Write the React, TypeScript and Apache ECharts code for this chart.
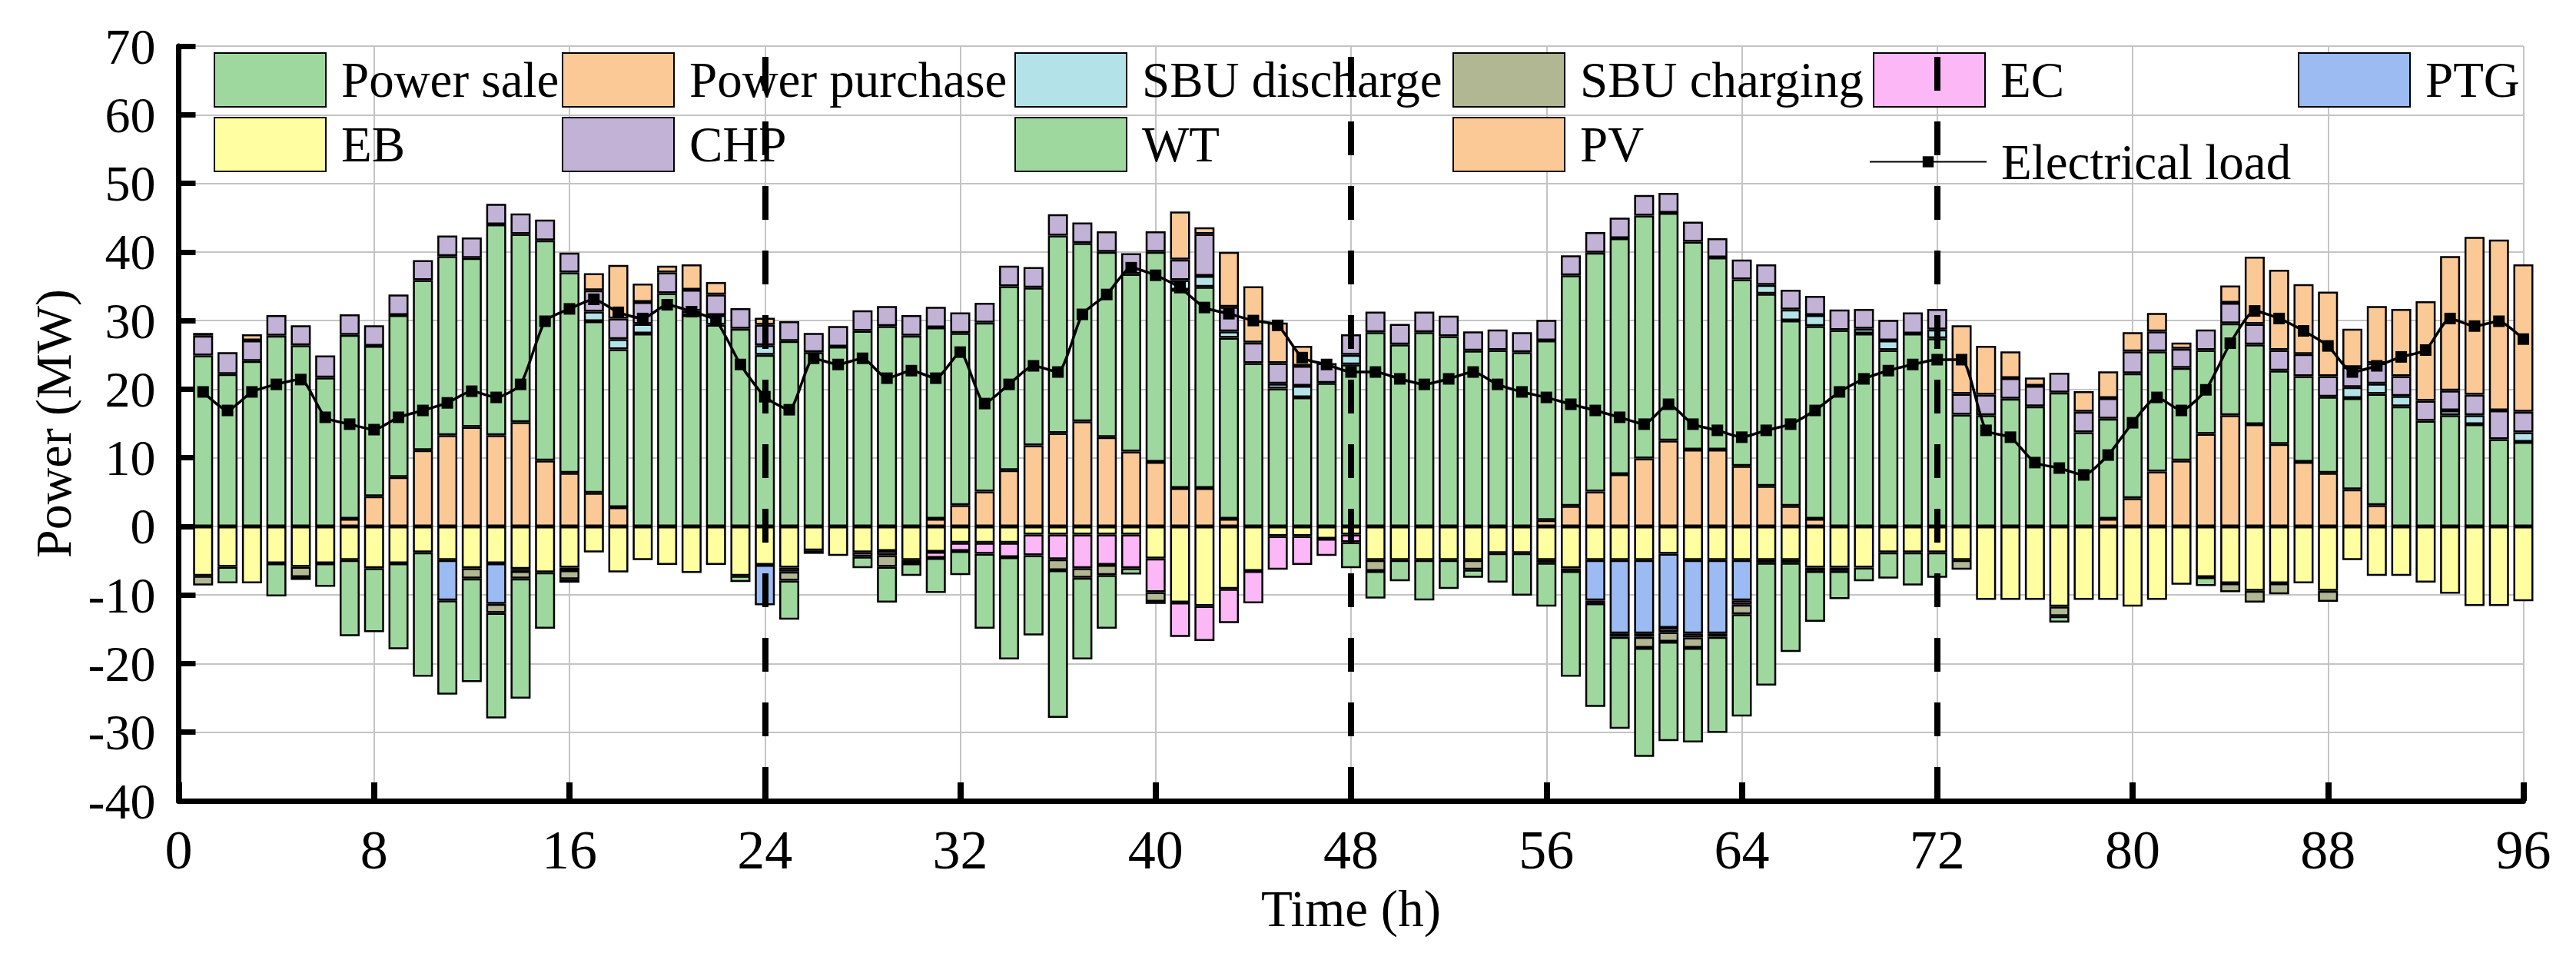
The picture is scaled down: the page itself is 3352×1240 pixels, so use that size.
import { useEffect, useRef } from "react";
import * as echarts from "echarts";

// category slots 0..96, bars sit on 1..96
const hourLabels = Array.from({ length: 97 }, (_, i) => String(i));

// positive side (bottom to top)
const pv = [
  0, 0, 0, 0, 0, 0, 1.1, 4.4, 7.2, 11.1, 13.3, 14.5,
  13.3, 15.2, 9.6, 7.8, 4.9, 2.8, 0, 0, 0, 0, 0, 0,
  0, 0, 0, 0, 0, 0, 1.1, 3.1, 5.1, 8.2, 11.8, 13.6,
  15.3, 13.0, 10.9, 9.4, 5.6, 5.6, 1.1, 0, 0, 0, 0, 0,
  0, 0, 0, 0, 0, 0, 0, 0.9, 3.0, 5.1, 7.6, 9.9,
  12.5, 11.2, 11.2, 8.8, 5.9, 3.0, 1.1, 0, 0, 0, 0, 0,
  0, 0, 0, 0, 0, 0, 1.1, 4.1, 8.0, 9.6, 13.5, 16.2,
  14.9, 12.0, 9.4, 7.8, 5.4, 3.1, 0, 0, 0, 0, 0, 0,
];
const wt = [
  24.9, 22.2, 24.1, 27.8, 26.4, 21.7, 26.8, 21.9, 23.6, 24.8, 26.1, 24.6,
  30.7, 27.4, 32.1, 29.2, 25.0, 23.0, 28.1, 34.0, 30.8, 29.4, 28.8, 25.0,
  27.0, 25.4, 26.2, 28.5, 29.2, 27.8, 27.9, 25.1, 24.6, 26.8, 23.0, 28.8,
  26.0, 27.0, 25.9, 30.6, 28.9, 29.3, 26.4, 23.8, 20.1, 18.8, 20.9, 23.6,
  28.3, 26.5, 28.3, 27.7, 25.6, 25.7, 25.4, 26.2, 33.6, 34.8, 34.4, 35.4,
  33.2, 30.3, 28.0, 27.2, 28.0, 27.0, 28.1, 28.6, 28.1, 25.7, 28.1, 27.4,
  16.3, 16.2, 18.6, 17.5, 19.5, 13.7, 14.6, 18.2, 17.5, 13.5, 12.2, 13.4,
  11.6, 10.7, 12.5, 11.1, 13.3, 16.2, 17.5, 15.4, 16.2, 14.9, 12.7, 12.3,
];
const sbuDischarge = [
  0, 0, 0, 0, 0, 0, 0, 0, 0, 0, 0, 0,
  0, 0, 0, 0, 1.4, 1.5, 1.4, 0, 0.6, 1.4, 0, 1.4,
  0, 0, 0, 0, 0, 0, 0, 0, 0, 0, 0, 0,
  0, 0, 0, 0, 1.4, 1.6, 0.9, 0, 0.7, 1.7, 0, 1.4,
  0, 0, 0, 0, 0, 0, 0, 0, 0, 0, 0, 0,
  0, 0, 0, 0, 1.3, 1.6, 1.6, 0, 0.7, 1.4, 0, 1.3,
  0, 0, 0, 0, 0, 0, 0, 0, 0, 0, 0, 0,
  0, 0, 0, 0, 1.6, 1.5, 1.5, 0, 0.7, 1.3, 0, 1.4,
];
const chp = [
  2.9, 3.2, 3.0, 3.0, 2.9, 3.2, 3.0, 3.0, 3.0, 2.9, 3.0, 3.0,
  3.0, 3.0, 3.0, 2.9, 3.1, 3.0, 3.2, 3.0, 3.1, 3.0, 3.0, 3.0,
  2.9, 2.8, 3.0, 3.0, 2.9, 3.0, 3.0, 3.0, 2.9, 3.0, 3.0, 3.1,
  3.0, 3.0, 3.0, 3.0, 3.0, 6.1, 3.6, 3.0, 3.0, 2.9, 2.9, 3.0,
  3.0, 3.0, 3.0, 3.0, 2.8, 3.0, 2.9, 3.0, 2.9, 3.0, 3.0, 3.0,
  2.9, 2.9, 2.8, 2.9, 3.0, 2.9, 2.8, 3.0, 2.9, 3.0, 3.1, 3.0,
  3.0, 3.0, 3.0, 3.0, 2.9, 3.0, 3.0, 3.2, 2.9, 2.8, 3.0, 3.0,
  3.0, 3.0, 3.2, 3.0, 2.9, 3.0, 2.9, 2.9, 2.9, 3.0, 4.2, 3.0,
];
const purchase = [
  0.4, 0, 0.9, 0, 0, 0, 0, 0, 0, 0, 0, 0,
  0, 0, 0, 0, 2.5, 7.8, 2.7, 1.0, 3.7, 1.8, 0, 1.0,
  0, 0, 0, 0, 0, 0, 0, 0, 0, 0, 0, 0,
  0, 0, 0, 0, 7.0, 1.0, 8.0, 8.2, 5.9, 2.9, 0, 0,
  0, 0, 0, 0, 0, 0, 0, 0, 0, 0, 0, 0,
  0, 0, 0, 0, 0, 0, 0, 0, 0, 0, 0, 0,
  10.0, 7.1, 3.9, 1.2, 0, 3.0, 3.9, 2.8, 2.7, 0.9, 0, 2.5,
  9.8, 11.7, 10.2, 12.3, 5.6, 8.3, 9.8, 14.5, 19.6, 23.0, 24.9, 21.5,
];

// negative side (from zero downwards)
const eb = [
  -7.2, -5.9, -8.3, -5.4, -5.9, -5.4, -4.9, -6.1, -5.4, -3.8, -4.9, -6.1,
  -5.4, -6.2, -6.7, -6.0, -3.8, -6.7, -4.9, -5.6, -6.8, -5.6, -7.2, -5.6,
  -6.0, -3.5, -4.3, -3.8, -3.6, -4.9, -3.7, -2.4, -2.4, -2.4, -1.2, -1.2,
  -1.2, -1.2, -1.2, -4.7, -11.1, -11.6, -9.1, -6.5, -1.4, -1.4, -1.8, -1.2,
  -4.9, -4.9, -4.9, -4.9, -4.9, -3.9, -3.9, -4.9, -6.1, -4.9, -4.9, -4.9,
  -4.0, -4.9, -4.9, -4.9, -4.9, -4.9, -6.0, -6.0, -6.0, -3.8, -3.8, -3.8,
  -4.9, -10.7, -10.7, -10.7, -11.7, -10.7, -10.7, -11.7, -10.7, -8.5, -7.4, -8.3,
  -9.4, -8.3, -8.3, -9.4, -4.9, -7.2, -7.2, -8.2, -9.8, -11.6, -11.6, -10.9,
];
const ptg = [
  0, 0, 0, 0, 0, 0, 0, 0, 0, 0, -5.9, 0,
  -5.9, 0, 0, 0, 0, 0, 0, 0, 0, 0, 0, -5.9,
  0, 0, 0, 0, 0, 0, 0, 0, 0, 0, 0, 0,
  0, 0, 0, 0, 0, 0, 0, 0, 0, 0, 0, 0,
  0, 0, 0, 0, 0, 0, 0, 0, 0, -5.9, -10.7, -10.7,
  -10.8, -10.7, -10.7, -5.9, 0, 0, 0, 0, 0, 0, 0, 0,
  0, 0, 0, 0, 0, 0, 0, 0, 0, 0, 0, 0,
  0, 0, 0, 0, 0, 0, 0, 0, 0, 0, 0, 0,
];
const ec = [
  0, 0, 0, 0, 0, 0, 0, 0, 0, 0, 0, 0,
  0, -0.3, 0, -0.4, 0, 0, 0, 0, 0, 0, 0, 0,
  -0.6, -0.5, 0, -0.6, -0.6, -0.5, -0.9, -1.2, -1.6, -2.1, -3.0, -3.6,
  -4.9, -4.4, -4.9, -4.9, -5.0, -5.1, -5.0, -4.7, -4.9, -4.2, -2.5, -1.1,
  0, 0, 0, 0, 0, 0, 0, -0.4, -0.4, -0.4, -0.5, -0.5,
  -0.6, -0.6, -0.5, -0.6, -0.4, -0.4, -0.5, -0.5, 0, 0, 0, 0,
  0, 0, 0, 0, 0, 0, 0, 0, 0, 0, 0, 0,
  0, 0, 0, 0, 0, 0, 0, 0, 0, 0, 0, 0,
];
const sbuCharging = [
  -1.4, 0, 0, 0, -1.5, 0, 0, 0, 0, 0, 0, -1.5,
  -1.3, -1.1, 0, -1.3, 0, 0, 0, 0, 0, 0, 0, 0,
  -1.3, 0, 0, 0, -1.7, 0, 0, 0, 0, 0, 0, -1.6,
  -1.4, -1.5, 0, -1.4, 0, 0, 0, 0, 0, 0, 0, 0,
  -1.6, 0, 0, 0, -1.4, 0, 0, 0, 0, 0, 0, -1.6,
  -1.4, -1.5, 0, -1.4, 0, 0, 0, 0, 0, 0, 0, 0,
  -1.4, 0, 0, 0, -1.4, 0, 0, 0, 0, 0, 0, -1.3,
  -1.7, -1.6, 0, -1.6, 0, 0, 0, 0, 0, 0, 0, 0,
];
const sale = [
  0, -2.4, 0, -4.8, -0.4, -3.4, -11.1, -9.3, -12.5, -18.1, -13.7, -15.1,
  -15.4, -17.5, -8.2, -0.5, 0, 0, 0, 0, 0, 0, -0.9, 0,
  -5.7, 0, 0, -1.7, -5.2, -1.8, -5.1, -3.5, -10.9, -14.9, -11.7, -21.5,
  -11.9, -7.8, -0.9, -0.3, 0, 0, 0, 0, 0, 0, 0, -3.8,
  -4.0, -3.1, -5.9, -4.2, -1.2, -4.3, -6.2, -6.4, -15.4, -15.1, -13.4, -15.9,
  -14.5, -13.8, -14.0, -14.9, -17.9, -13.0, -7.4, -4.1, -2.0, -3.8, -4.8, -3.7,
  0, 0, 0, 0, -0.9, 0, 0, 0, 0, 0, -1.3, 0,
  0, 0, 0, 0, 0, 0, 0, 0, 0, 0, 0, 0,
];

const load = [
  19.6, 16.9, 19.6, 20.7, 21.4, 15.9, 14.9, 14.1, 15.9, 16.9, 18.0, 19.7,
  18.8, 20.7, 29.9, 31.7, 33.1, 31.2, 30.3, 32.3, 31.3, 30.0, 23.6, 18.9,
  17.0, 24.5, 23.6, 24.5, 21.6, 22.7, 21.6, 25.4, 17.9, 20.7, 23.4, 22.5,
  30.9, 33.8, 37.7, 36.6, 34.8, 31.9, 31.0, 30.0, 29.3, 24.6, 23.6, 22.5,
  22.5, 21.5, 20.7, 21.5, 22.5, 20.7, 19.6, 18.8, 17.8, 16.9, 15.9, 14.9,
  17.8, 14.9, 14.0, 13.0, 14.0, 14.9, 16.9, 19.6, 21.5, 22.7, 23.6, 24.3,
  24.3, 14.0, 13.0, 9.3, 8.5, 7.5, 10.4, 15.1, 18.8, 16.9, 19.9, 26.7,
  31.4, 30.3, 28.5, 26.3, 22.5, 23.4, 24.7, 25.7, 30.3, 29.2, 29.9, 27.3,
];

const dayBreaks = [24, 48, 72];

const FONT = "'Liberation Serif', 'Times New Roman', serif";
const GREEN = "#9fd89f";
const ORANGE = "#fbc996";

// stacking order matters: earlier series sit closer to zero
const barDefs = [
  { name: "PV", data: pv, color: ORANGE },
  { name: "WT", data: wt, color: GREEN },
  { name: "SBU discharge", data: sbuDischarge, color: "#b3e3e8" },
  { name: "CHP", data: chp, color: "#c1b2d6" },
  { name: "Power purchase", data: purchase, color: ORANGE },
  { name: "EB", data: eb, color: "#fffea0" },
  { name: "PTG", data: ptg, color: "#9bbbf2" },
  { name: "EC", data: ec, color: "#fcb7f7" },
  { name: "SBU charging", data: sbuCharging, color: "#b1b693" },
  { name: "Power sale", data: sale, color: GREEN },
];

// legend slots: [name, left, top]
const legendSlots: [string, number, number][] = [
  ["Power sale", 278, 68],
  ["Power purchase", 731, 68],
  ["SBU discharge", 1320, 68],
  ["SBU charging", 1890, 68],
  ["EC", 2437, 68],
  ["PTG", 2990, 68],
  ["EB", 278, 152],
  ["CHP", 731, 152],
  ["WT", 1320, 152],
  ["PV", 1890, 152],
];

// value for category slot 0 is empty, zeros are not drawn
const slots = (arr: number[]) => ["-", ...arr.map((v) => (v === 0 ? "-" : v))];

export default function App() {
  const ref = useRef<HTMLDivElement>(null);

  useEffect(() => {
    if (!ref.current) return;
    const chart = echarts.init(ref.current, null, { renderer: "svg" });

    const legends: any[] = legendSlots.map(([name, left, top]) => ({
      data: [{ name, icon: "rect" }],
      left,
      top,
      padding: 0,
      itemWidth: 145,
      itemHeight: 70,
      selectedMode: false,
      itemStyle: { borderColor: "#000", borderWidth: 2 },
      textStyle: { fontFamily: FONT, fontSize: 65, color: "#000", padding: [0, 0, 0, 15] },
    }));
    legends.push({
      data: ["Electrical load"],
      left: 2432,
      top: 178,
      padding: 0,
      itemWidth: 152,
      itemHeight: 18,
      selectedMode: false,
      textStyle: { fontFamily: FONT, fontSize: 65, color: "#000", padding: [0, 0, 0, 14] },
    });

    const bars = barDefs.map((d) => ({
      name: d.name,
      type: "bar",
      stack: "total",
      barWidth: 26,
      clip: false,
      itemStyle: { color: d.color, borderColor: "#000", borderWidth: 2.5 },
      data: slots(d.data),
    }));

    const everyEighth = (i: number) => i % 8 === 0;

    chart.setOption({
      animation: false,
      backgroundColor: "#fff",
      legend: legends,
      grid: { left: 232.5, right: 68.5, top: 60, bottom: 198 },
      xAxis: {
        type: "category",
        data: hourLabels,
        boundaryGap: false,
        name: "Time (h)",
        nameLocation: "middle",
        nameGap: 106,
        nameTextStyle: { fontFamily: FONT, fontSize: 67, color: "#000" },
        axisLine: { onZero: false, lineStyle: { color: "#000", width: 7 } },
        axisTick: { inside: true, length: 24, interval: everyEighth, lineStyle: { color: "#000", width: 8 } },
        axisLabel: { interval: everyEighth, fontFamily: FONT, fontSize: 72, color: "#000", margin: 28 },
        splitLine: { show: true, interval: everyEighth, lineStyle: { color: "#c4c4c4", width: 2 } },
      },
      yAxis: {
        type: "value",
        min: -40,
        max: 70,
        interval: 10,
        name: "Power (MW)",
        nameLocation: "middle",
        nameGap: 130,
        nameTextStyle: { fontFamily: FONT, fontSize: 66, color: "#000" },
        axisLine: { show: true, onZero: false, lineStyle: { color: "#000", width: 7 } },
        axisTick: { show: true, inside: true, length: 22, lineStyle: { color: "#000", width: 7 } },
        axisLabel: { fontFamily: FONT, fontSize: 66, color: "#000", margin: 30 },
        splitLine: { show: true, lineStyle: { color: "#c4c4c4", width: 2 } },
      },
      series: [
        ...bars,
        {
          name: "Electrical load",
          type: "line",
          z: 10,
          smooth: 0.2,
          symbol: "rect",
          symbolSize: 15,
          itemStyle: { color: "#000" },
          lineStyle: { color: "#000", width: 3.5 },
          data: ["-", ...load],
          markLine: {
            silent: true,
            symbol: ["none", "none"],
            label: { show: false },
            lineStyle: { color: "#000", width: 8, type: [44, 40] },
            data: dayBreaks.map((x) => ({ xAxis: x })),
          },
        },
      ],
    });

    return () => chart.dispose();
  }, []);

  return (
    <div
      ref={ref}
      style={{ position: "absolute", left: 0, top: 0, width: 3352, height: 1240, background: "#fff" }}
    />
  );
}
